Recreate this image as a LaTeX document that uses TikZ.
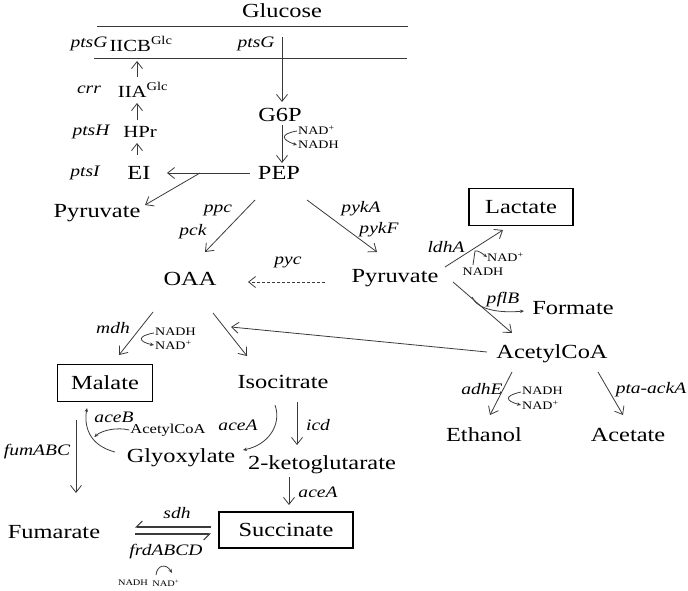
\documentclass[tikz,border=0pt]{standalone}
\usepackage{fontspec}
\setmainfont{Liberation Serif}[FakeStretch=1.22]
\usetikzlibrary{arrows.meta,calc}
\definecolor{lc}{HTML}{3A3A3A}
\begin{document}
\begin{tikzpicture}[x=1pt,y=-1pt,
  met/.style={font=\fontsize{20}{22}\selectfont, inner sep=1pt},
  metb/.style={font=\fontsize{17}{19}\selectfont, inner sep=1pt},
  gene/.style={font=\fontsize{16}{18}\selectfont\itshape, inner sep=1pt},
  cofl/.style={font=\fontsize{11.5}{13}\selectfont, inner sep=0pt},
  cofs/.style={font=\fontsize{8.5}{10}\selectfont, inner sep=0pt},
  boxed/.style={met, draw=black, line width=1.8pt, inner sep=0pt},
  arr/.style={draw=lc, line width=0.8pt, -{Straight Barb[length=7pt,width=11pt]}},
  carr/.style={draw=lc, line width=0.8pt, -{Stealth[length=4pt,width=3.5pt]}},
  hpa/.style={draw=lc, line width=1.1pt, -{Straight Barb[length=6pt,width=12pt,harpoon,swap]}},
  memb/.style={draw=lc, line width=0.8pt}]
\useasboundingbox (0,0) rectangle (688,590);
% membrane
\coordinate (m1a) at (97,26); \coordinate (m1b) at (408,26);
\coordinate (m2a) at (94,58); \coordinate (m2b) at (407,58);
\draw[memb] (m1a) -- (m1b);
\draw[memb] (m2a) -- (m2b);
% nodes
\node[met] (glc) at (282,11) {Glucose};
\node[gene] (ptsG1) at (89,44) {ptsG};
\node[metb] (iicb) at (141,44) {IICB\textsuperscript{Glc}};
\node[gene] (ptsG2) at (256,44) {ptsG};
\node[gene] (crr) at (89,90) {crr};
\node[metb] (iia) at (143,90) {IIA\textsuperscript{Glc}};
\node[gene] (ptsH) at (91,132) {ptsH};
\node[metb] (hpr) at (140,132) {HPr};
\node[gene] (ptsI) at (85,173) {ptsI};
\node[met] (ei) at (139,173) {EI};
\node[met] (g6p) at (280,115) {G6P};
\node[cofl, anchor=west] (nadp1) at (298,130) {NAD\textsuperscript{+}};
\node[cofl, anchor=west] (nadh1) at (298,145) {NADH};
\node[met] (pep) at (279,173) {PEP};
\node[met] (pyr1) at (97,213) {Pyruvate};
\node[gene] (ppc) at (218,210) {ppc};
\node[gene] (pck) at (193,232) {pck};
\node[met] (oaa) at (190,279) {OAA};
\node[gene] (pyc) at (288,262) {pyc};
\node[gene] (pykA) at (361,209) {pykA};
\node[gene] (pykF) at (379,230) {pykF};
\node[met] (pyr2) at (395,278) {Pyruvate};
\node[boxed, minimum width=104pt, minimum height=37pt] (lac) at (521,207) {Lactate};
\node[gene] (ldhA) at (446,247) {ldhA};
\node[cofl, anchor=west] (nadp2) at (487,257) {NAD\textsuperscript{+}};
\node[cofl] (nadh2) at (483,272) {NADH};
\node[gene] (pflB) at (503,300) {pflB};
\node[met] (form) at (573,308) {Formate};
\node[met] (acoa) at (552,354) {AcetylCoA};
\node[gene] (adhE) at (482,389) {adhE};
\node[cofl, anchor=west] (nadh3) at (522,391) {NADH};
\node[cofl, anchor=west] (nadp3) at (522,405) {NAD\textsuperscript{+}};
\node[gene] (pta) at (651,390) {pta-ackA};
\node[met] (eth) at (484,435) {Ethanol};
\node[met] (ace) at (628,435) {Acetate};
\node[gene] (mdh) at (113,328) {mdh};
\node[cofl, anchor=west] (nadh4) at (155,332) {NADH};
\node[cofl, anchor=west] (nadp4) at (155,345) {NAD\textsuperscript{+}};
\node[boxed, minimum width=95pt, minimum height=37pt] (mal) at (105,383) {Malate};
\node[met] (iso) at (283,382) {Isocitrate};
\node[gene] (aceB) at (114,417) {aceB};
\node[font=\fontsize{13.5}{15}\selectfont, inner sep=1pt] (acoa2) at (168,430) {AcetylCoA};
\node[gene] (fum) at (37,452) {fumABC};
\node[met] (glx) at (181,458) {Glyoxylate};
\node[gene] (aceA1) at (238,425) {aceA};
\node[gene] (icd) at (318,425) {icd};
\node[met] (akg) at (322,465) {2-ketoglutarate};
\node[gene] (aceA2) at (318,492) {aceA};
\node[boxed, minimum width=134pt, minimum height=36pt] (suc) at (286,530) {Succinate};
\node[met] (fumr) at (54,532) {Fumarate};
\node[gene] (sdh) at (177,513) {sdh};
\node[gene] (frd) at (166,552) {frdABCD};
\node[cofs] (nadh5) at (133,583) {NADH};
\node[cofs] (nadp5) at (166,583) {NAD\textsuperscript{+}};
% connectors
\draw[arr] ($(g6p)+(2,-78)$) -- ($(g6p)+(2,-13)$);
\draw[arr] ($(g6p)+(2,10)$) -- ($(pep)+(3,-10)$);
\draw[carr] ($(nadp1.west)+(-1,1)$) .. controls ($(nadp1.west)+(-19,4)$) and ($(nadp1.west)+(-16,10)$) .. ($(nadh1.west)+(-1,0)$);
\draw[arr] ($(pep)+(-29,0)$) -- ($(ei)+(28,0)$);
\draw[arr] ($(pep)+(-79,0)$) -- ($(pyr1)+(48,-8)$);
\draw[arr] ($(ei)+(-2,-18)$) -- ($(hpr)+(-3,11)$);
\draw[arr] ($(hpr)+(-3,-12)$) -- ($(iia)+(-6,13)$);
\draw[arr] ($(iia)+(-6,-13)$) -- ($(iicb)+(-4,17)$);
\draw[arr] ($(pep)+(-24,27)$) -- ($(oaa)+(15,-27)$);
\draw[arr] ($(pep)+(28,27)$) -- ($(pyr2)+(-18,-26)$);
\draw[arr, dashed, dash pattern=on 3pt off 2pt] ($(pyr2)+(-70,4)$) -- ($(oaa)+(58,3)$);
\draw[arr] ($(pyr2)+(50,-11)$) -- ($(lac)+(-18,23)$);
\draw[carr] ($(nadh2)+(-10,-7)$) -- ($(nadh2)+(-8,-21)$) .. controls ($(nadh2)+(-5,-22)$) and ($(nadh2)+(0,-18)$) .. (nadp2.west);
\draw[arr] ($(pyr2)+(58,4)$) -- ($(acoa)+(-40,-21)$);
\draw[carr] ($(pyr2)+(77,19)$) .. controls ($(pyr2)+(83,33)$) and ($(pyr2)+(108,35)$) .. ($(form)+(-49,3)$);
\draw[arr] ($(acoa)+(-65,-2)$) -- ($(oaa)+(41,48)$);
\draw[arr] ($(acoa)+(-40,18)$) -- ($(eth)+(6,-20)$);
\draw[carr] ($(nadh3.west)+(-1,1)$) .. controls ($(nadh3.west)+(-19,5)$) and ($(nadh3.west)+(-16,10)$) .. ($(nadp3.west)+(-1,0)$);
\draw[arr] ($(acoa)+(46,18)$) -- ($(ace)+(-5,-20)$);
\draw[arr] ($(oaa)+(-37,33)$) -- ($(mal)+(14,-28)$);
\draw[carr] ($(nadh4.west)+(-1,1)$) .. controls ($(nadh4.west)+(-19,4)$) and ($(nadh4.west)+(-16,10)$) .. ($(nadp4.west)+(-1,0)$);
\draw[arr] ($(oaa)+(23,34)$) -- ($(iso)+(-36,-26)$);
\draw[carr] ($(glx)+(-66,-6)$) .. controls ($(glx)+(-93,-13)$) and ($(glx)+(-97,-33)$) .. ($(mal)+(-18,25)$);
\draw[carr] (acoa2.west) .. controls ($(acoa2.west)+(-12,-3)$) and ($(acoa2.west)+(-27,0)$) .. ($(acoa2.west)+(-35,7)$);
\draw[arr] ($(mal)+(-29,37)$) -- ($(fumr)+(22,-39)$);
\draw[carr] ($(iso)+(-8,23)$) .. controls ($(iso)+(-1,43)$) and ($(iso)+(-15,63)$) .. ($(glx)+(62,-8)$);
\draw[arr] ($(iso)+(14,20)$) -- ($(akg)+(-25,-20)$);
\draw[arr] ($(akg)+(-33,12)$) -- ($(suc)+(3,-25)$);
\draw[hpa] ($(suc)+(-75,-3)$) -- ($(fumr)+(81,-5)$);
\draw[hpa] ($(fumr)+(81,2)$) -- ($(suc)+(-75,4)$);
\draw[carr] ($(nadh5)+(23,-8)$) .. controls ($(nadh5)+(24,-18)$) and ($(nadh5)+(33,-20)$) .. ($(nadp5)+(6,-10)$);
\end{tikzpicture}
\end{document}
